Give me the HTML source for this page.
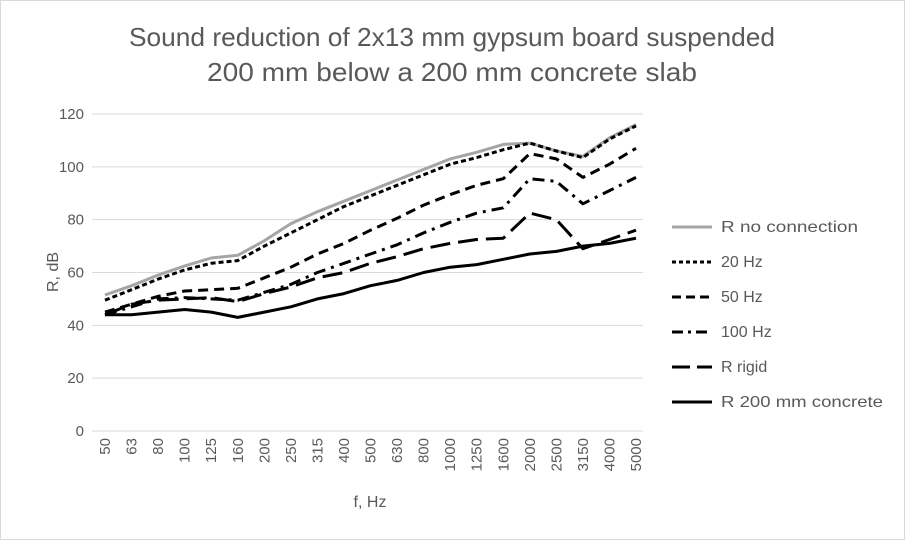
<!DOCTYPE html>
<html><head><meta charset="utf-8"><style>
body{margin:0;background:#fff;}
svg{display:block;font-family:"Liberation Sans",sans-serif;}
</style></head><body>
<svg id="s" width="905" height="540" xmlns="http://www.w3.org/2000/svg">
<rect x="0.5" y="0.5" width="904" height="539" fill="#fff" stroke="#d9d9d9"/>
<text x="452" y="46" text-anchor="middle" font-size="26" fill="#595959" textLength="646" lengthAdjust="spacingAndGlyphs">Sound reduction of 2x13 mm gypsum board suspended</text>
<text x="452" y="81" text-anchor="middle" font-size="26" fill="#595959" textLength="490" lengthAdjust="spacingAndGlyphs">200 mm below a 200 mm concrete slab</text>
<g id="grid"></g>
<g id="series"></g>
<text transform="translate(58,272) rotate(-90)" text-anchor="middle" font-size="16" fill="#595959">R, dB</text>
<text x="370" y="507" text-anchor="middle" font-size="16" fill="#595959">f, Hz</text>
<g font-size="16" fill="#595959">
<line x1="672" y1="227" x2="712" y2="227" stroke="#a5a5a5" stroke-width="3"/><text x="721" y="232" textLength="137" lengthAdjust="spacingAndGlyphs">R no connection</text>
<line x1="672" y1="262" x2="712" y2="262" stroke="#000" stroke-width="3" stroke-dasharray="4,3"/><text x="721" y="267">20 Hz</text>
<line x1="672" y1="297" x2="712" y2="297" stroke="#000" stroke-width="3" stroke-dasharray="9,5"/><text x="721" y="302">50 Hz</text>
<line x1="672" y1="332" x2="712" y2="332" stroke="#000" stroke-width="3" stroke-dasharray="11,5,3,5"/><text x="721" y="337">100 Hz</text>
<line x1="672" y1="367" x2="712" y2="367" stroke="#000" stroke-width="3" stroke-dasharray="18,7"/><text x="721" y="372">R rigid</text>
<line x1="672" y1="402" x2="712" y2="402" stroke="#000" stroke-width="3"/><text x="721" y="407" textLength="162" lengthAdjust="spacingAndGlyphs">R 200 mm concrete</text>
</g>
</svg>
<script>
var ns="http://www.w3.org/2000/svg",g=document.getElementById("grid"),se=document.getElementById("series");
function el(p,t,a,txt){var e=document.createElementNS(ns,t);for(var k in a)e.setAttribute(k,a[k]);if(txt!=null)e.textContent=txt;p.appendChild(e);return e;}
function Y(v){return 431-v*2.6417;}
function X(i){return 105+26.55*i;}
for(var v=0;v<=120;v+=20){var y=Y(v);if(v>0)el(g,"line",{x1:92,x2:643,y1:y,y2:y,stroke:"#d9d9d9","stroke-width":1});
el(g,"text",{x:84,y:y+5,"text-anchor":"end","font-size":15,fill:"#595959"},v);}
el(g,"line",{x1:92,x2:643,y1:431,y2:431,stroke:"#d9d9d9","stroke-width":1});
var f=[50,63,80,100,125,160,200,250,315,400,500,630,800,1000,1250,1600,2000,2500,3150,4000,5000];
f.forEach(function(q,i){var x=X(i);
el(g,"text",{transform:"translate("+(x+5)+",438) rotate(-90)","text-anchor":"end","font-size":15,fill:"#595959"},q);});
var D=[
[[51.5,55,59,62.5,65.5,66.5,72,78.5,83,87,91,95,99,103,105.5,108.5,109,106,104,111,116],"#a5a5a5",""],
[[49.5,53.5,57.5,61,63.5,64.5,70,75,80,85,89,93,97,101,103.5,106.5,109,106,103.5,110.5,115.5],"#000","5,3"],
[[45,48,51,53,53.5,54,58,62,67,71,76,80.5,85.5,89.5,93,95.5,105,103,96,101,107],"#000","10,6"],
[[44,47,50,50.5,50,49.5,52.5,55.5,60,63.5,67,70.5,75,79,82.5,84.5,95.5,94.5,86,91,96],"#000","12,6,3,6"],
[[44,48,49.5,50,50.5,49,52,54.5,58,60,63.5,66,69,71,72.5,73,82.5,80,69,72.5,76],"#000","20,8"],
[[44,44,45,46,45,43,45,47,50,52,55,57,60,62,63,65,67,68,70,71,73],"#000",""]];
D.forEach(function(d){var p=d[0].map(function(v,i){return X(i).toFixed(1)+","+Y(v).toFixed(1);}).join(" ");
var a={points:p,fill:"none",stroke:d[1],"stroke-width":3,"stroke-linejoin":"round"};if(d[2])a["stroke-dasharray"]=d[2];el(se,"polyline",a);});
</script>
</body></html>
